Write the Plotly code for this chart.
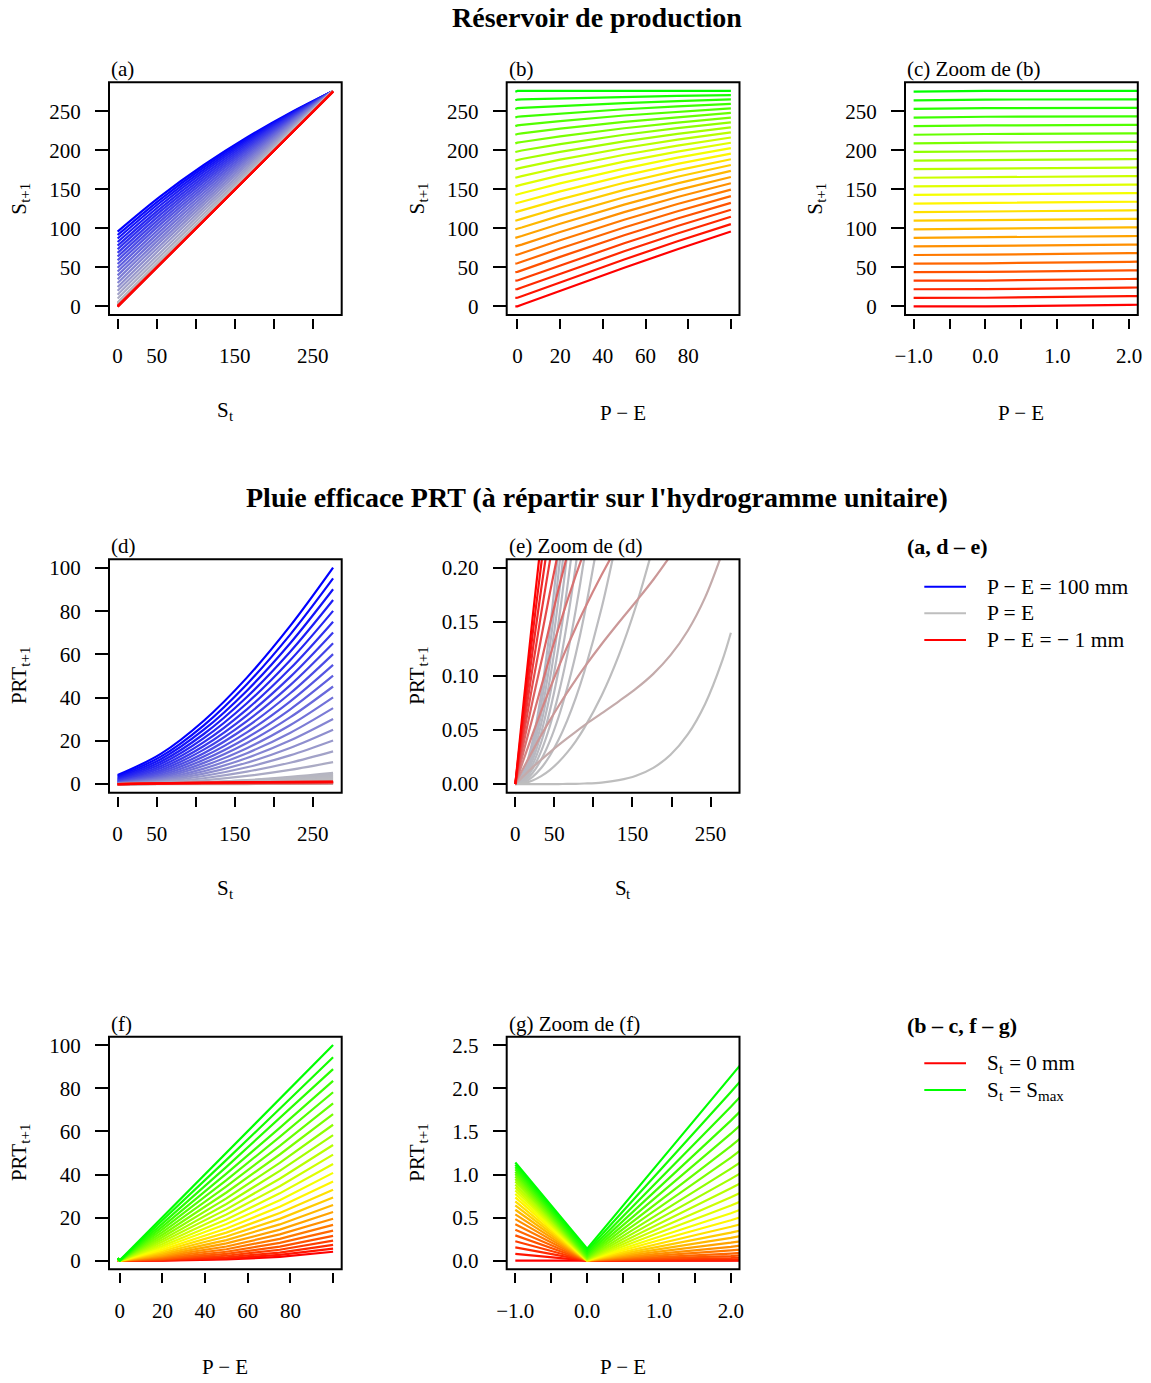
import plotly.graph_objects as go

# ================= DATA =================
# Panels (a) and (d): x = S_t, one curve per P-E value
S_GRID = [0, 55.2, 110.4, 165.6, 220.8, 276]
PE_CURVES = [100, 95, 90, 85, 80, 75, 70, 65, 60, 55, 50, 45, 40, 35, 30, 25, 20, 15, 10, 5,
             4.5, 4, 3.5, 3, 2.5, 2, 1.5, 1, 0.5, 0,
             -0.1, -0.2, -0.3, -0.4, -0.5, -0.6, -0.7, -0.8, -0.9, -1]

S_NEXT_A = [
    [95.84, 141.23, 181.09, 216.36, 247.80, 275.9],
    [91.42, 137.51, 178.21, 214.41, 246.82, 275.9],
    [86.94, 133.72, 175.26, 212.40, 245.80, 275.9],
    [82.41, 129.86, 172.24, 210.33, 244.75, 275.9],
    [77.83, 125.93, 169.15, 208.20, 243.66, 275.9],
    [73.21, 121.94, 166.00, 206.02, 242.54, 275.9],
    [68.54, 117.89, 162.77, 203.78, 241.38, 275.9],
    [63.83, 113.77, 159.48, 201.47, 240.19, 275.9],
    [59.07, 109.58, 156.11, 199.10, 238.96, 275.9],
    [54.28, 105.34, 152.67, 196.67, 237.68, 275.9],
    [49.46, 101.04, 149.17, 194.18, 236.37, 275.9],
    [44.60, 96.68, 145.59, 191.62, 235.02, 275.9],
    [39.72, 92.26, 141.95, 189.00, 233.62, 275.9],
    [34.81, 87.80, 138.24, 186.31, 232.18, 275.9],
    [29.88, 83.28, 134.46, 183.56, 230.70, 275.9],
    [24.93, 78.71, 130.61, 180.74, 229.17, 275.9],
    [19.96, 74.09, 126.69, 177.84, 227.59, 275.9],
    [14.99, 69.44, 122.72, 174.89, 225.97, 275.9],
    [9.99, 64.72, 118.67, 171.86, 224.30, 275.9],
    [5.00, 59.98, 114.57, 168.77, 222.57, 275.9],
    [4.50, 59.51, 114.16, 168.45, 222.40, 275.9],
    [4.00, 59.03, 113.74, 168.14, 222.22, 275.9],
    [3.50, 58.55, 113.33, 167.82, 222.05, 275.9],
    [3.00, 58.07, 112.91, 167.51, 221.87, 275.9],
    [2.50, 57.60, 112.49, 167.19, 221.69, 275.9],
    [2.00, 57.12, 112.08, 166.87, 221.52, 275.9],
    [1.50, 56.64, 111.66, 166.56, 221.34, 275.9],
    [1.00, 56.16, 111.24, 166.24, 221.16, 275.9],
    [0.50, 55.68, 110.82, 165.92, 220.98, 275.9],
    [0.00, 55.20, 110.40, 165.60, 220.75, 275.86],
    [0.00, 55.16, 110.34, 165.52, 220.70, 275.90],
    [0.00, 55.13, 110.27, 165.43, 220.61, 275.80],
    [0.00, 55.09, 110.21, 165.35, 220.51, 275.70],
    [0.00, 55.06, 110.14, 165.26, 220.42, 275.60],
    [0.00, 55.02, 110.08, 165.18, 220.32, 275.50],
    [0.00, 54.98, 110.02, 165.10, 220.22, 275.40],
    [0.00, 54.95, 109.95, 165.01, 220.13, 275.30],
    [0.00, 54.91, 109.89, 164.93, 220.03, 275.20],
    [0.00, 54.88, 109.82, 164.84, 219.94, 275.10],
    [0.00, 54.84, 109.76, 164.76, 219.84, 275.00],
]

PRT_D = [
    [4.16, 13.97, 29.31, 49.25, 73.05, 100.14],
    [3.58, 12.69, 27.19, 46.20, 69.03, 95.14],
    [3.06, 11.48, 25.14, 43.21, 65.05, 90.14],
    [2.59, 10.34, 23.16, 40.28, 61.10, 85.14],
    [2.17, 9.27, 21.25, 37.41, 57.19, 80.14],
    [1.79, 8.26, 19.40, 34.59, 53.31, 75.14],
    [1.46, 7.31, 17.63, 31.83, 49.47, 70.14],
    [1.17, 6.43, 15.92, 29.14, 45.66, 65.14],
    [0.93, 5.62, 14.29, 26.51, 41.89, 60.14],
    [0.72, 4.86, 12.73, 23.94, 38.17, 55.14],
    [0.54, 4.16, 11.23, 21.43, 34.48, 50.14],
    [0.40, 3.52, 9.81, 18.99, 30.83, 45.14],
    [0.28, 2.94, 8.45, 16.61, 27.23, 40.14],
    [0.19, 2.40, 7.16, 14.30, 23.67, 35.14],
    [0.12, 1.92, 5.94, 12.05, 20.15, 30.14],
    [0.07, 1.49, 4.79, 9.87, 16.68, 25.14],
    [0.04, 1.11, 3.71, 7.77, 13.26, 20.14],
    [0.01, 0.76, 2.68, 5.72, 9.88, 15.14],
    [0.00, 0.48, 1.73, 3.75, 6.55, 10.14],
    [0.00, 0.22, 0.83, 1.84, 3.28, 5.14],
    [0.00, 0.19, 0.75, 1.66, 2.95, 4.64],
    [0.00, 0.17, 0.66, 1.47, 2.62, 4.14],
    [0.00, 0.15, 0.58, 1.29, 2.30, 3.64],
    [0.00, 0.13, 0.49, 1.10, 1.98, 3.14],
    [0.00, 0.10, 0.41, 0.92, 1.65, 2.64],
    [0.00, 0.08, 0.33, 0.74, 1.33, 2.14],
    [0.00, 0.06, 0.24, 0.55, 1.01, 1.64],
    [0.00, 0.04, 0.16, 0.37, 0.69, 1.14],
    [0.00, 0.02, 0.08, 0.19, 0.37, 0.64],
    [0.00, 0.00, 0.00, 0.01, 0.05, 0.14],
    [0.00, 0.04, 0.07, 0.10, 0.14, 0.24],
    [0.00, 0.07, 0.13, 0.18, 0.24, 0.34],
    [0.00, 0.11, 0.19, 0.26, 0.33, 0.44],
    [0.00, 0.14, 0.26, 0.35, 0.43, 0.54],
    [0.00, 0.18, 0.32, 0.43, 0.53, 0.64],
    [0.00, 0.22, 0.39, 0.52, 0.62, 0.74],
    [0.00, 0.25, 0.45, 0.60, 0.72, 0.84],
    [0.00, 0.29, 0.51, 0.68, 0.81, 0.94],
    [0.00, 0.32, 0.58, 0.77, 0.91, 1.04],
    [0.00, 0.36, 0.64, 0.85, 1.01, 1.14],
]

# Panel (e): zoom of (d) on the small values (finer S grid)
S_GRID_E = [0, 11.04, 22.08, 33.12, 44.16, 55.2, 66.24, 77.28, 88.32, 110.4,
            132.48, 154.56, 176.64, 198.72, 220.8, 242.88, 264.96, 276]
PE_E = [5, 4.5, 4, 3.5, 3, 2.5, 2, 1.5, 1, 0.5, 0,
        -0.1, -0.2, -0.3, -0.4, -0.5, -0.6, -0.7, -0.8, -0.9, -1]
PRT_E = [
    [0.0005, 0.0121, 0.0397, 0.0832, 0.1426, 0.2179],
    [0.0004, 0.0105, 0.0350, 0.0739, 0.1270, 0.1945, 0.2762],
    [0.0003, 0.0090, 0.0305, 0.0648, 0.1117, 0.1714, 0.2438],
    [0.0002, 0.0076, 0.0261, 0.0559, 0.0967, 0.1487, 0.2119, 0.2861],
    [0.0001, 0.0062, 0.0219, 0.0472, 0.0820, 0.1264, 0.1804, 0.2439],
    [0.0001, 0.0049, 0.0178, 0.0387, 0.0675, 0.1044, 0.1492, 0.2020, 0.2630],
    [0.0000, 0.0038, 0.0140, 0.0305, 0.0535, 0.0828, 0.1186, 0.1607, 0.2095, 0.3263],
    [0.0000, 0.0027, 0.0103, 0.0226, 0.0397, 0.0616, 0.0884, 0.1199, 0.1565, 0.2442],
    [0.0000, 0.0017, 0.0067, 0.0148, 0.0262, 0.0407, 0.0585, 0.0795, 0.1039, 0.1626, 0.2353],
    [0.0000, 0.0008, 0.0033, 0.0073, 0.0129, 0.0202, 0.0291, 0.0396, 0.0520, 0.0817, 0.1191,
     0.1648, 0.2201],
    [0.0000, 0.0000, 0.0000, 0.0000, 0.0000, 0.0000, 0.0001, 0.0002, 0.0005, 0.0014, 0.0036,
     0.0077, 0.0150, 0.0271, 0.0459, 0.0739, 0.1142, 0.1400],
    [0.0000, 0.0078, 0.0154, 0.0226, 0.0294, 0.0360, 0.0423, 0.0484, 0.0543, 0.0654, 0.0766,
     0.0883, 0.1020, 0.1193, 0.1419, 0.1725, 0.2140],
    [0.0000, 0.0157, 0.0307, 0.0451, 0.0589, 0.0720, 0.0846, 0.0965, 0.1080, 0.1294, 0.1495,
     0.1690, 0.1891, 0.2114],
    [0.0000, 0.0235, 0.0461, 0.0677, 0.0883, 0.1080, 0.1268, 0.1447, 0.1618, 0.1934, 0.2225],
    [0.0000, 0.0314, 0.0614, 0.0902, 0.1178, 0.1440, 0.1691, 0.1928, 0.2155],
    [0.0000, 0.0392, 0.0768, 0.1128, 0.1472, 0.1800, 0.2113, 0.2410],
    [0.0000, 0.0470, 0.0922, 0.1354, 0.1766, 0.2160],
    [0.0000, 0.0549, 0.1075, 0.1579, 0.2061, 0.2520],
    [0.0000, 0.0627, 0.1229, 0.1805, 0.2355],
    [0.0000, 0.0706, 0.1382, 0.2030, 0.2650],
    [0.0000, 0.0784, 0.1536, 0.2256],
]

# Panels (b), (c), (f), (g): x = P-E, one curve per S_t value
PE_GRID = [-1, 0, 2, 20, 50, 75, 100]
ST_CURVES = [0, 11.04, 22.08, 33.12, 44.16, 55.2, 66.24, 77.28, 88.32, 99.36, 110.4,
             121.44, 132.48, 143.52, 154.56, 165.6, 176.64, 187.68, 198.72, 209.76,
             220.8, 231.84, 242.88, 253.92, 264.96, 276]
S_NEXT_B = [
    [0.00, 0.00, 2.00, 19.96, 49.46, 73.21, 95.84],
    [10.96, 11.04, 13.04, 30.91, 60.07, 83.36, 105.42],
    [21.93, 22.08, 24.07, 41.80, 70.53, 93.31, 114.73],
    [32.89, 33.12, 35.09, 52.63, 80.84, 103.05, 123.80],
    [43.87, 44.16, 46.11, 63.39, 91.01, 112.59, 132.63],
    [54.84, 55.20, 57.12, 74.09, 101.04, 121.94, 141.23],
    [65.82, 66.24, 68.12, 84.73, 110.93, 131.10, 149.61],
    [76.80, 77.28, 79.12, 95.31, 120.68, 140.08, 157.78],
    [87.78, 88.32, 90.11, 105.83, 130.31, 148.89, 165.74],
    [98.77, 99.36, 101.10, 116.30, 139.80, 157.53, 173.51],
    [109.76, 110.40, 112.08, 126.70, 149.17, 166.00, 181.09],
    [120.75, 121.44, 123.05, 137.04, 158.41, 174.30, 188.49],
    [131.75, 132.48, 134.01, 147.33, 167.53, 182.46, 195.70],
    [142.75, 143.52, 144.97, 157.56, 176.53, 190.46, 202.75],
    [153.75, 154.56, 155.93, 167.73, 185.41, 198.31, 209.64],
    [164.76, 165.60, 166.87, 177.84, 194.18, 206.02, 216.36],
    [175.77, 176.64, 177.82, 187.90, 202.84, 213.59, 222.93],
    [186.78, 187.68, 188.75, 197.91, 211.38, 221.03, 229.36],
    [197.80, 198.72, 199.68, 207.86, 219.82, 228.32, 235.64],
    [208.82, 209.76, 210.60, 217.75, 228.15, 235.49, 241.79],
    [219.84, 220.80, 221.52, 227.59, 236.37, 242.54, 247.80],
    [230.87, 231.84, 232.43, 237.38, 244.50, 249.46, 253.68],
    [241.89, 242.88, 243.33, 247.11, 252.52, 256.27, 259.44],
    [252.93, 253.92, 254.23, 256.79, 260.44, 262.96, 265.08],
    [263.96, 264.96, 265.12, 266.42, 268.27, 269.54, 270.60],
    [275.00, 276.00, 276.00, 276.00, 276.00, 276.00, 276.00],
]
PRT_F = [
    [0.000, 0.000, 0.000, 0.04, 0.54, 1.79, 4.16],
    [0.078, 0.000, 0.004, 0.13, 0.97, 2.68, 5.62],
    [0.154, 0.000, 0.014, 0.28, 1.55, 3.77, 7.35],
    [0.226, 0.000, 0.031, 0.49, 2.28, 5.07, 9.32],
    [0.294, 0.000, 0.054, 0.77, 3.15, 6.57, 11.53],
    [0.360, 0.000, 0.083, 1.11, 4.16, 8.26, 13.97],
    [0.422, 0.000, 0.119, 1.51, 5.31, 10.14, 16.63],
    [0.482, 0.000, 0.161, 1.97, 6.60, 12.20, 19.50],
    [0.538, 0.000, 0.209, 2.49, 8.01, 14.43, 22.58],
    [0.591, 0.001, 0.265, 3.06, 9.57, 16.84, 25.86],
    [0.641, 0.001, 0.326, 3.70, 11.24, 19.41, 29.32],
    [0.688, 0.002, 0.394, 4.40, 13.03, 22.14, 32.95],
    [0.734, 0.004, 0.470, 5.15, 14.95, 25.02, 36.78],
    [0.775, 0.005, 0.551, 5.97, 17.00, 28.07, 40.78],
    [0.814, 0.008, 0.641, 6.84, 19.16, 31.26, 44.93],
    [0.851, 0.011, 0.737, 7.77, 21.43, 34.59, 49.25],
    [0.885, 0.015, 0.840, 8.76, 23.82, 38.07, 53.73],
    [0.918, 0.020, 0.950, 9.79, 26.32, 41.67, 58.34],
    [0.949, 0.027, 1.069, 10.89, 28.93, 45.43, 63.11],
    [0.978, 0.036, 1.196, 12.05, 31.65, 49.31, 68.01],
    [1.006, 0.046, 1.330, 13.26, 34.48, 53.31, 73.05],
    [1.033, 0.059, 1.474, 14.52, 37.40, 57.44, 78.22],
    [1.060, 0.074, 1.626, 15.84, 40.43, 61.68, 83.51],
    [1.086, 0.092, 1.787, 17.22, 43.57, 66.05, 88.93],
    [1.112, 0.114, 1.958, 18.65, 46.80, 70.54, 94.47],
    [1.140, 0.140, 2.140, 20.14, 50.14, 75.14, 100.14],
]

# Tick definitions (labelled ticks, and unlabelled tick marks)
XT_S, XT_S_MINOR = [0, 50, 150, 250], [100, 200]
XT_PE, XT_PE_MINOR = [0, 20, 40, 60, 80], [100]
XT_Z, XT_Z_MINOR = [-1, 0, 1, 2], [-0.5, 0.5, 1.5]
XTXT_Z = ["\u22121.0", "0.0", "1.0", "2.0"]
YT_STORE = [0, 50, 100, 150, 200, 250]
YT_PRT = [0, 20, 40, 60, 80, 100]
YT_E = [0, 0.05, 0.10, 0.15, 0.20]
YTXT_E = ["0.00", "0.05", "0.10", "0.15", "0.20"]
YT_G = [0, 0.5, 1.0, 1.5, 2.0, 2.5]
YTXT_G = ["0.0", "0.5", "1.0", "1.5", "2.0", "2.5"]

# ================= STYLE / LAYOUT =================
W, H = 1151, 1383
FONT = "Liberation Serif"
COLS = [(109.0, 341.7), (506.7, 739.5), (905.0, 1137.8)]
ROWS = [(82.3, 315.0), (559.3, 792.7), (1036.7, 1269.3)]
LW = 2.2
FS = 21          # main text size
FSUB = 15        # subscript size
# approximate Times advance widths (em) for layout of subscripts
CW = {"S": .556, "P": .556, "R": .667, "T": .611, "E": .611, "t": .278, "+": .564, "1": .5,
      "0": .5, " ": .25, "=": .564, "m": .778, "a": .444, "x": .5}


def tw(s, size):
    return sum(CW.get(ch, 0.5) for ch in s) * size


def col_pe(p):
    if p >= 0:
        f = p / 100.0
        return "rgb(%d,%d,%d)" % (round(190 * (1 - f)), round(190 * (1 - f)), round(190 + 65 * f))
    a = -p
    return "rgb(%d,%d,%d)" % (round(190 + 65 * a), round(190 * (1 - a)), round(190 * (1 - a)))


def col_st(s):
    f = s / 276.0
    if f <= 0.5:
        return "rgb(255,%d,0)" % round(510 * f)
    return "rgb(%d,255,0)" % round(510 * (1 - f))


def px_x(x):
    return x / W


def px_y(y):
    return 1 - y / H


fig = go.Figure()

S_TXT = [str(v) for v in XT_S]
PE_TXT = [str(v) for v in XT_PE]
panels = {
    1: (0, 0, [-11.04, 287.04], [-11.04, 287.04], XT_S, S_TXT, XT_S_MINOR, YT_STORE, [str(v) for v in YT_STORE]),
    2: (1, 0, [-5.04, 104.04], [-11.04, 287.04], XT_PE, PE_TXT, XT_PE_MINOR, YT_STORE, [str(v) for v in YT_STORE]),
    3: (2, 0, [-1.12, 2.12], [-11.04, 287.04], XT_Z, XTXT_Z, XT_Z_MINOR, YT_STORE, [str(v) for v in YT_STORE]),
    4: (0, 1, [-11.04, 287.04], [-4.0, 104.0], XT_S, S_TXT, XT_S_MINOR, YT_PRT, [str(v) for v in YT_PRT]),
    5: (1, 1, [-11.04, 287.04], [-0.008, 0.208], XT_S, S_TXT, XT_S_MINOR, YT_E, YTXT_E),
    6: (0, 2, [-5.04, 104.04], [-4.0, 104.0], XT_PE, PE_TXT, XT_PE_MINOR, YT_PRT, [str(v) for v in YT_PRT]),
    7: (1, 2, [-1.12, 2.12], [-0.1, 2.6], XT_Z, XTXT_Z, XT_Z_MINOR, YT_G, YTXT_G),
}

layout = dict(
    template="none",
    width=W, height=H, margin=dict(l=0, r=0, t=0, b=0, pad=0, autoexpand=False),
    paper_bgcolor="white", plot_bgcolor="white", showlegend=False,
    font=dict(family=FONT, size=FS, color="black"),
)
shapes = []
annotations = []

tickfont = dict(family=FONT, size=FS, color="black")
for i, (c, r, xr, yr, xt, xtt, xmin, yt, ytt) in panels.items():
    x0, x1 = COLS[c]
    y0, y1 = ROWS[r]
    sx = "" if i == 1 else str(i)
    layout["xaxis" + sx] = dict(
        domain=[px_x(x0), px_x(x1)], range=xr, anchor="free", position=px_y(y1 + 3),
        showline=False, showgrid=False, zeroline=False, automargin=False,
        ticks="outside", ticklen=10, tickwidth=2, tickcolor="black",
        tickmode="array", tickvals=xt, ticktext=xtt, tickfont=tickfont,
        ticklabelstandoff=9,
        minor=dict(tickmode="array", tickvals=xmin, ticks="outside", ticklen=10, tickwidth=2,
                   tickcolor="black", showgrid=False),
    )
    layout["yaxis" + sx] = dict(
        domain=[px_y(y1), px_y(y0)], range=yr, anchor="x" + sx,
        showline=False, showgrid=False, zeroline=False, automargin=False,
        ticks="outside", ticklen=13, tickwidth=2, tickcolor="black",
        tickmode="array", tickvals=yt, ticktext=ytt, tickfont=tickfont,
        ticklabelstandoff=10,
    )
    shapes.append(dict(type="rect", xref="paper", yref="paper",
                       x0=px_x(x0), x1=px_x(x1), y0=px_y(y1), y1=px_y(y0),
                       line=dict(color="black", width=2), layer="above"))


def add_line(xs, ys, color, axis, shape="linear", width=LW):
    fig.add_trace(go.Scatter(x=xs, y=ys, mode="lines", line=dict(color=color, width=width, shape=shape),
                             xaxis="x" + axis, yaxis="y" + axis, hoverinfo="skip"))


# (a)
for p, ys in zip(PE_CURVES, S_NEXT_A):
    add_line(S_GRID, ys, col_pe(p), "", shape="spline")
# (b) and (c)
for s, ys in zip(ST_CURVES, S_NEXT_B):
    add_line(PE_GRID, ys, col_st(s), "2")
for s, ys in zip(ST_CURVES, S_NEXT_B):
    add_line(PE_GRID, ys, col_st(s), "3")
# (d)
for p, ys in zip(PE_CURVES, PRT_D):
    add_line(S_GRID, ys, col_pe(p), "4", shape="spline")
# (e)
for p, ys in zip(PE_E, PRT_E):
    add_line(S_GRID_E[:len(ys)], ys, col_pe(p), "5", shape="spline")
# (f) and (g)
for s, ys in zip(ST_CURVES, PRT_F):
    add_line(PE_GRID, ys, col_st(s), "6")
for s, ys in zip(ST_CURVES, PRT_F):
    add_line(PE_GRID, ys, col_st(s), "7")


def ann(text, x, y, size=FS, xanchor="center", yanchor="middle", angle=0):
    annotations.append(dict(text=text, x=px_x(x), y=px_y(y), xref="paper", yref="paper",
                            showarrow=False, xanchor=xanchor, yanchor=yanchor, textangle=angle,
                            font=dict(family=FONT, size=size, color="black")))


SUB_SHIFT = 6.0   # offset of subscript centre (towards the baseline side)


def ann_sub_h(main, sub, xc, yc):
    """Horizontal text 'main' with subscript 'sub', centred on (xc, yc)."""
    wm, ws = tw(main, FS), tw(sub, FSUB)
    x0 = xc - (wm + ws) / 2
    ann(main, x0 + wm / 2, yc)
    ann(sub, x0 + wm + ws / 2, yc + SUB_SHIFT, size=FSUB)


def ann_sub_v(main, sub, xc, yc):
    """Text rotated -90 (reading upwards) with subscript, centred on (xc, yc)."""
    wm, ws = tw(main, FS), tw(sub, FSUB)
    yb = yc + (wm + ws) / 2
    ann(main, xc, yb - wm / 2, angle=-90)
    ann(sub, xc + SUB_SHIFT, yb - wm - ws / 2, size=FSUB, angle=-90)


# main titles
ann("<b>Réservoir de production</b>", 597, 18, size=28)
ann("<b>Pluie efficace PRT (à répartir sur l'hydrogramme unitaire)</b>", 597, 497, size=28)

# panel labels and axis titles
labels = {1: "(a)", 2: "(b)", 3: "(c) Zoom de (b)", 4: "(d)", 5: "(e) Zoom de (d)",
          6: "(f)", 7: "(g) Zoom de (f)"}
xtitles = {1: ("S", "t"), 2: ("P \u2212 E", ""), 3: ("P \u2212 E", ""), 4: ("S", "t"), 5: ("S", "t"),
           6: ("P \u2212 E", ""), 7: ("P \u2212 E", "")}
ytitles = {1: ("S", "t+1"), 2: ("S", "t+1"), 3: ("S", "t+1"), 4: ("PRT", "t+1"),
           5: ("PRT", "t+1"), 6: ("PRT", "t+1"), 7: ("PRT", "t+1")}
for i, (c, r, *_rest) in panels.items():
    x0, x1 = COLS[c]
    y0, y1 = ROWS[r]
    ann(labels[i], x0, y0 - 13, xanchor="left")
    m, s = xtitles[i]
    if s:
        ann_sub_h(m, s, (x0 + x1) / 2, y1 + 95)
    else:
        ann(m, (x0 + x1) / 2, y1 + 98)
    m, s = ytitles[i]
    ann_sub_v(m, s, x0 - 90, (y0 + y1) / 2)

# legends
ann("<b>(a, d \u2013 e)</b>", 905, 546.7, size=22, xanchor="left")
leg1 = [("blue", "P \u2212 E = 100 mm", 586.7), ("#BEBEBE", "P = E", 613.3),
        ("red", "P \u2212 E = \u2212 1 mm", 640.0)]
for colr, txt, yy in leg1:
    shapes.append(dict(type="line", xref="paper", yref="paper", x0=px_x(924.3), x1=px_x(966),
                       y0=px_y(yy), y1=px_y(yy), line=dict(color=colr, width=2)))
    ann(txt, 985, yy, size=21.5, xanchor="left")
ann("<b>(b \u2013 c, f \u2013 g)</b>", 905, 1025, size=22, xanchor="left")
leg2 = [("red", [("S", FS, 0), ("t", FSUB, 1), (" = 0 mm", FS, 0)], 1063.3),
        ("#00FF00", [("S", FS, 0), ("t", FSUB, 1), (" = S", FS, 0), ("max", FSUB, 1)], 1090.0)]
for colr, pieces, yy in leg2:
    shapes.append(dict(type="line", xref="paper", yref="paper", x0=px_x(924.3), x1=px_x(966),
                       y0=px_y(yy), y1=px_y(yy), line=dict(color=colr, width=2)))
    xx = 985
    for txt, sz, is_sub in pieces:
        ann(txt, xx, yy + (SUB_SHIFT if is_sub else 0), size=sz, xanchor="left")
        xx += tw(txt, sz) + (1 if is_sub else 0)

layout["shapes"] = shapes
layout["annotations"] = annotations
fig.update_layout(**layout)
fig.write_html(
    "out.html",
    config={"displayModeBar": False},
    post_script="document.body.style.margin='0px'; document.body.style.padding='0px';",
)
